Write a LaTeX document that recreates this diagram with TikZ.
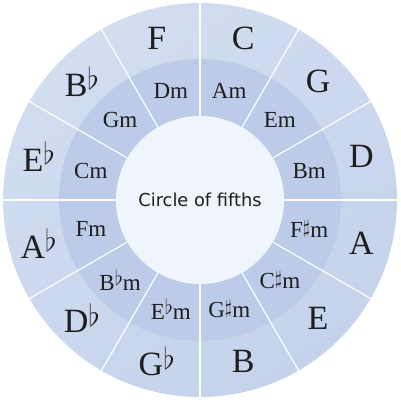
\documentclass[tikz,border=0pt]{standalone}
\usepackage{fontspec}
\usepackage{graphicx}
\setmainfont{Liberation Serif}
\newfontfamily\labelsans{DejaVu Sans}
\definecolor{outerlight}{RGB}{210,221,240}
\definecolor{outerring}{RGB}{196,211,235}
\definecolor{innerring}{RGB}{188,204,232}
\definecolor{centredisk}{RGB}{239,245,250}
\definecolor{keytext}{RGB}{30,30,30}
\newcommand{\flt}{\raisebox{0.2em}{\scalebox{0.88}{$\flat$}}}
\newcommand{\shp}{\raisebox{0.18em}{\scalebox{0.8}{$\sharp$}}}
\tikzset{
  major/.style={text=keytext, font=\fontsize{17}{17}\selectfont},
  minor/.style={text=keytext, font=\fontsize{11.5}{11.5}\selectfont},
  spoke/.style={white, line width=0.6pt}
}

\begin{document}
\begin{tikzpicture}[x=0.5pt,y=0.5pt, line cap=round,line join=round]
\useasboundingbox (-200,-200) rectangle (200,200);
% rings
\shade[top color=outerlight, bottom color=outerring, shading angle=35] (0,0) circle (197);
\fill[innerring] (0,0) circle (141);
% spokes between the keys
\draw[spoke] (0:84) -- (0:197);
\draw[spoke] (30:84) -- (30:197);
\draw[spoke] (60:84) -- (60:197);
\draw[spoke] (90:84) -- (90:197);
\draw[spoke] (120:84) -- (120:197);
\draw[spoke] (150:84) -- (150:197);
\draw[spoke] (180:84) -- (180:197);
\draw[spoke] (210:84) -- (210:197);
\draw[spoke] (240:84) -- (240:197);
\draw[spoke] (270:84) -- (270:197);
\draw[spoke] (300:84) -- (300:197);
\draw[spoke] (330:84) -- (330:197);
\fill[centredisk] (0,0) circle (84);
\node[text=keytext, font=\labelsans\fontsize{8.9}{8.9}\selectfont] (title) at (0,0) {Circle of fifths};
% major keys
\node[major] (kC) at (75:167) {C};
\node[major] (kG) at (45:167) {G};
\node[major] (kD) at (15:167) {D};
\node[major] (kA) at (-15:167) {A};
\node[major] (kE) at (-45:167) {E};
\node[major] (kB) at (-75:167) {B};
\node[major] (kGb) at (-105:167) {G\flt};
\node[major] (kDb) at (-135:167) {D\flt};
\node[major] (kAb) at (-165:167) {A\flt};
\node[major] (kEb) at (165:167) {E\flt};
\node[major] (kBb) at (135:167) {B\flt};
\node[major] (kF) at (105:167) {F};
% minor keys
\node[minor] (kAm) at (75:113) {Am};
\node[minor] (kEm) at (45:113) {Em};
\node[minor] (kBm) at (15:113) {Bm};
\node[minor] (kFsm) at (-15:113) {F\shp m};
\node[minor] (kCsm) at (-45:113) {C\shp m};
\node[minor] (kGsm) at (-75:113) {G\shp m};
\node[minor] (kEbm) at (-105:113) {E\flt m};
\node[minor] (kBbm) at (-135:113) {B\flt m};
\node[minor] (kFm) at (-165:113) {Fm};
\node[minor] (kCm) at (165:113) {Cm};
\node[minor] (kGm) at (135:113) {Gm};
\node[minor] (kDm) at (105:113) {Dm};
\end{tikzpicture}
\end{document}
